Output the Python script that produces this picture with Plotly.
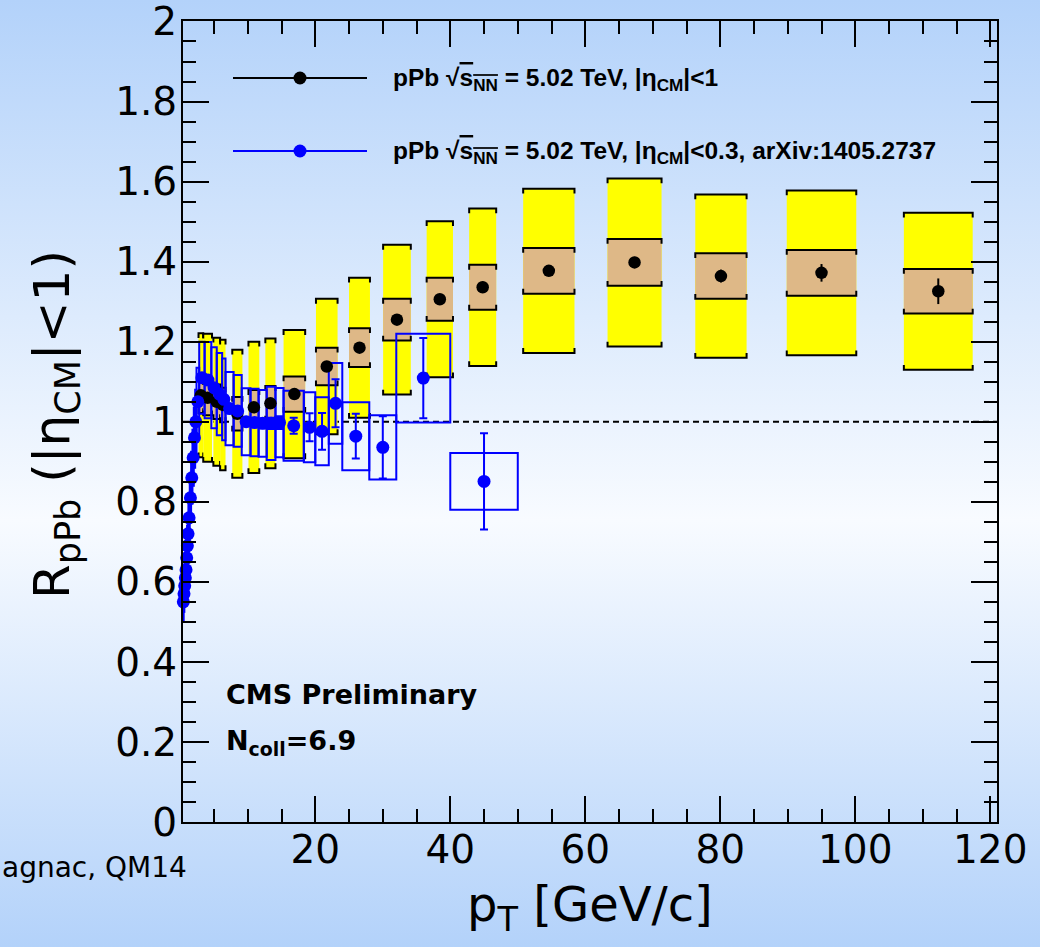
import base64
import plotly.graph_objects as go

# ---------------- data ----------------
# pPb, |eta_CM|<1 : points, stat. errors, total syst. (yellow), normalisation-type syst. (tan)
pt_k = [3.05, 4.05, 5.4, 6.3, 8.45, 10.9, 13.35, 16.9, 21.7, 26.55, 32.1, 38.45, 44.8, 54.6, 67.3, 80.1, 95.0, 112.3]
hw_k = [0.35, 0.65, 0.5, 0.4, 0.75, 0.8, 0.75, 1.6, 1.6, 1.55, 2.05, 1.95, 2.0, 3.8, 4.0, 3.8, 5.15, 5.1]
r_k = [1.066, 1.06, 1.05, 1.042, 1.02, 1.036, 1.046, 1.069, 1.138, 1.185, 1.255, 1.306, 1.336, 1.377, 1.398, 1.364, 1.372, 1.326]
stat_k = [0.003, 0.003, 0.003, 0.003, 0.003, 0.004, 0.005, 0.006, 0.007, 0.008, 0.010, 0.012, 0.014, 0.012, 0.014, 0.016, 0.022, 0.032]
syst_k = [0.155, 0.16, 0.16, 0.163, 0.16, 0.164, 0.162, 0.16, 0.169, 0.175, 0.187, 0.195, 0.197, 0.205, 0.21, 0.204, 0.206, 0.196]
norm_k = [0.044, 0.044, 0.043, 0.043, 0.042, 0.043, 0.043, 0.044, 0.047, 0.0485, 0.052, 0.054, 0.056, 0.057, 0.0585, 0.057, 0.057, 0.0555]

# pPb, |eta_CM|<0.3 (arXiv:1405.2737): bin edges, values, stat. and syst. errors
pt_lo_b = [0.4, 0.5, 0.6, 0.7, 0.8, 0.9, 1.0, 1.1, 1.2, 1.4, 1.6, 1.8, 2.0, 2.2, 2.4, 2.8,
           3.6, 4.6, 5.4, 6.2, 6.7, 7.9, 9.1, 10.4, 11.6, 12.8, 14.1, 15.3, 18.3, 20.0, 22.0, 24.0, 28.0, 32.0, 40.0]
pt_hi_b = [0.5, 0.6, 0.7, 0.8, 0.9, 1.0, 1.1, 1.2, 1.4, 1.6, 1.8, 2.0, 2.2, 2.4, 2.8, 3.6,
           4.6, 5.4, 6.2, 6.7, 7.9, 9.1, 10.4, 11.6, 12.8, 14.1, 15.3, 18.3, 20.0, 22.0, 24.0, 28.0, 32.0, 40.0, 50.0]
r_b = [0.55, 0.57, 0.59, 0.61, 0.63, 0.66, 0.69, 0.72, 0.76, 0.81, 0.86, 0.91, 0.96, 1.00, 1.05, 1.11,
       1.104, 1.085, 1.069, 1.056, 1.033, 1.027, 1.0, 0.998, 0.996, 0.996, 0.998, 0.99, 0.986, 0.976, 1.046, 0.964, 0.936, 1.109, 0.851]
stat_b = [0.004, 0.004, 0.004, 0.004, 0.004, 0.004, 0.004, 0.004, 0.004, 0.004, 0.004, 0.004, 0.004, 0.004, 0.004, 0.004,
          0.005, 0.005, 0.006, 0.006, 0.006, 0.007, 0.008, 0.010, 0.012, 0.014, 0.016, 0.020, 0.035, 0.046, 0.060, 0.056, 0.078, 0.100, 0.120]
syst_b = [0.05, 0.045, 0.045, 0.045, 0.045, 0.05, 0.05, 0.05, 0.055, 0.06, 0.065, 0.07, 0.075, 0.08, 0.085, 0.09,
          0.095, 0.101, 0.1025, 0.102, 0.0915, 0.0895, 0.0835, 0.0845, 0.0835, 0.0915, 0.0865, 0.0875, 0.0875, 0.085, 0.101, 0.085, 0.08, 0.111, 0.071]

x_ticks = [20, 40, 60, 80, 100, 120]
x_labels = ["20", "40", "60", "80", "100", "120"]
y_ticks = [0, 0.2, 0.4, 0.6, 0.8, 1.0, 1.2, 1.4, 1.6, 1.8, 2.0]
y_labels = ["0", "0.2", "0.4", "0.6", "0.8", "1", "1.2", "1.4", "1.6", "1.8", "2"]

# ---------------- layout geometry ----------------
W, H = 1040, 947
ML, MR, MT, MB = 183, 43, 21, 125
PW, PH = W - ML - MR, H - MT - MB
FONT = "DejaVu Sans, Liberation Sans, Arial, sans-serif"
LFONT = "Liberation Sans, Arial, Helvetica, sans-serif"
BLUE = "#0000ff"


def px(xp):
    return (xp - ML) / PW


def py(yp):
    return (H - MB - yp) / PH


fig = go.Figure()

shapes = []
# reference line at R = 1
shapes.append(dict(type="line", xref="x domain", yref="y", x0=0, x1=1, y0=1, y1=1,
                   line=dict(color="black", width=2, dash="6px,4px"), layer="below"))

TICK = 0.012  # bracket end length (data units)


def bracket(x0, x1, y0, y1):
    top = f"M {x0},{y1 - TICK} L {x0},{y1} L {x1},{y1} L {x1},{y1 - TICK}"
    bot = f"M {x0},{y0 + TICK} L {x0},{y0} L {x1},{y0} L {x1},{y0 + TICK}"
    return [dict(type="path", xref="x", yref="y", path=p,
                 line=dict(color="black", width=2), layer="below") for p in (top, bot)]


# yellow systematic boxes
for p, h, r, s in zip(pt_k, hw_k, r_k, syst_k):
    shapes.append(dict(type="rect", xref="x", yref="y", x0=p - h, x1=p + h, y0=r - s, y1=r + s,
                       fillcolor="#ffff00", line=dict(width=0), layer="below"))
    shapes += bracket(p - h, p + h, r - s, r + s)
# tan boxes
for p, h, r, s in zip(pt_k, hw_k, r_k, norm_k):
    shapes.append(dict(type="rect", xref="x", yref="y", x0=p - h, x1=p + h, y0=r - s, y1=r + s,
                       fillcolor="#deb887", line=dict(width=0), layer="below"))
    shapes += bracket(p - h, p + h, r - s, r + s)
# blue open systematic boxes
for lo, hi, r, s in zip(pt_lo_b, pt_hi_b, r_b, syst_b):
    shapes.append(dict(type="rect", xref="x", yref="y", x0=lo, x1=hi, y0=r - s, y1=r + s,
                       fillcolor="rgba(0,0,0,0)", line=dict(color=BLUE, width=2), layer="below"))

pt_b = [(lo + hi) / 2 for lo, hi in zip(pt_lo_b, pt_hi_b)]

fig.add_trace(go.Scatter(
    x=pt_k, y=r_k, mode="markers", cliponaxis=False,
    marker=dict(color="black", size=12.5),
    error_y=dict(type="data", array=stat_k, color="black", thickness=2, width=0),
    showlegend=False))
fig.add_trace(go.Scatter(
    x=pt_b, y=r_b, mode="markers", cliponaxis=False,
    marker=dict(color=BLUE, size=13),
    error_y=dict(type="data", array=stat_b, color=BLUE, thickness=2, width=4),
    showlegend=False))

# legend drawn inside the frame
sqrt_s = "√<span style='text-decoration:overline'>s<sub>NN</sub></span>"
leg_rows = [(78, "black", f"<b>pPb {sqrt_s} = 5.02 TeV, |η<sub>CM</sub>|&lt;1</b>"),
            (151, BLUE, f"<b>pPb {sqrt_s} = 5.02 TeV, |η<sub>CM</sub>|&lt;0.3, arXiv:1405.2737</b>")]
annotations = []
for yy, col, txt in leg_rows:
    shapes.append(dict(type="line", xref="paper", yref="paper", x0=px(233), x1=px(367), y0=py(yy), y1=py(yy),
                       line=dict(color=col, width=2)))
    shapes.append(dict(type="circle", xref="paper", yref="paper", xsizemode="pixel", ysizemode="pixel",
                       xanchor=px(300), yanchor=py(yy), x0=-6.5, x1=6.5, y0=-6.5, y1=6.5,
                       fillcolor=col, line=dict(color=col, width=0)))
    annotations.append(dict(xref="paper", yref="paper", x=px(391), y=py(yy + 2), xanchor="left", yanchor="middle",
                            text=txt, showarrow=False, font=dict(family=LFONT, size=24.5, color="black")))

annotations += [
    dict(xref="paper", yref="paper", x=px(224), y=py(694), xanchor="left", yanchor="middle",
         text="<b>CMS Preliminary</b>", showarrow=False, font=dict(family=FONT, size=27, color="black")),
    dict(xref="paper", yref="paper", x=px(224), y=py(742), xanchor="left", yanchor="middle",
         text="<b>N<sub>coll</sub>=6.9</b>", showarrow=False, font=dict(family=FONT, size=27, color="black")),
    dict(xref="paper", yref="paper", x=px(590), y=py(907), xanchor="center", yanchor="middle",
         text="p<sub>T</sub> [GeV/c]", showarrow=False, font=dict(family=FONT, size=48, color="black")),
    dict(xref="paper", yref="paper", x=px(55), y=py(425), xanchor="center", yanchor="middle", textangle=-90,
         text="R<sub>pPb</sub> (|η<sub>CM</sub>|&lt;1)", showarrow=False, font=dict(family=FONT, size=50, color="black")),
    dict(xref="paper", yref="paper", x=px(0), y=py(868), xanchor="left", yanchor="middle",
         text="agnac, QM14", showarrow=False, font=dict(family=FONT, size=28, color="black")),
]

# slide-style vertical gradient behind everything
svg = (f'<svg xmlns="http://www.w3.org/2000/svg" width="{W}" height="{H}" viewBox="0 0 {W} {H}" '
       f'preserveAspectRatio="none"><defs><linearGradient id="g" x1="0" y1="0" x2="0" y2="1">'
       f'<stop offset="0" stop-color="#b3d2fa"/><stop offset="0.55" stop-color="#f8fbff"/>'
       f'<stop offset="1" stop-color="#b3d2fa"/></linearGradient></defs>'
       f'<rect width="{W}" height="{H}" fill="url(#g)"/></svg>')
bg_src = "data:image/svg+xml;base64," + base64.b64encode(svg.encode()).decode()

axis_common = dict(showgrid=False, zeroline=False, showline=True, linecolor="black", linewidth=2,
                   mirror="allticks", ticks="inside", ticklen=26, tickwidth=2, tickcolor="black",
                   ticklabeloverflow="allow",
                   tickfont=dict(family=FONT, size=39, color="black"))

fig.update_layout(
    width=W, height=H,
    margin=dict(l=ML, r=MR, t=MT, b=MB, autoexpand=False),
    paper_bgcolor="white", plot_bgcolor="rgba(0,0,0,0)",
    shapes=shapes, annotations=annotations,
    images=[dict(source=bg_src, xref="paper", yref="paper", x=-ML / PW, y=1 + MT / PH,
                 sizex=W / PW, sizey=H / PH, sizing="stretch", xanchor="left", yanchor="top",
                 layer="below")],
    xaxis=dict(range=[0.4, 121], tickmode="array", tickvals=x_ticks, ticktext=x_labels,
               minor=dict(dtick=5, tick0=0, ticks="inside", ticklen=13, tickwidth=2, tickcolor="black"),
               ticklabelstandoff=-8, **axis_common),
    yaxis=dict(range=[0, 2.0012], tickmode="array", tickvals=y_ticks, ticktext=y_labels,
               minor=dict(dtick=0.05, tick0=0, ticks="inside", ticklen=13, tickwidth=2, tickcolor="black"),
               ticklabelstandoff=-4, **axis_common),
    showlegend=False,
)

fig.write_html("out.html")
